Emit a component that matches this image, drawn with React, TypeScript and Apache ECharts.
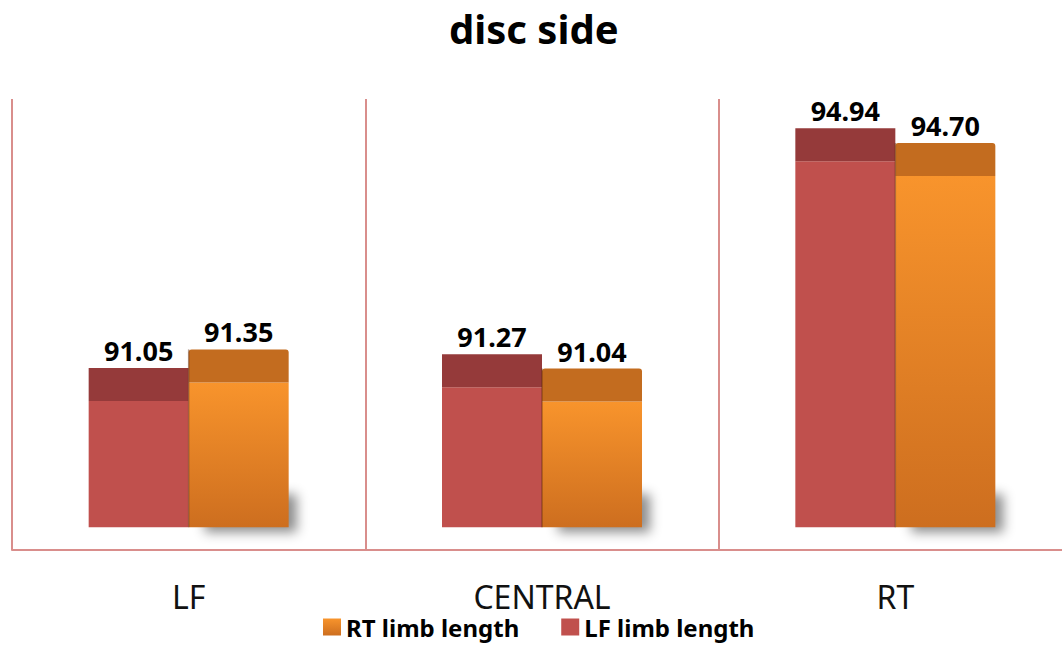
import React, { useEffect, useRef } from 'react';
import * as echarts from 'echarts';

// Limb length by disc side
const categories = ['LF', 'CENTRAL', 'RT'];
const lfLimbLength = [91.05, 91.27, 94.94];
const rtLimbLength = [91.35, 91.04, 94.7];
const baseValue = 89;

const FONT = '"Noto Sans", "Open Sans", sans-serif';
const BAR_W = 100;
const DEPTH = 33;
const LINE_COLOR = '#D98E8C';

const orangeFront = () =>
  new echarts.graphic.LinearGradient(0, 0, 0, 1, [
    { offset: 0, color: '#F8942C' },
    { offset: 1, color: '#CD6E1F' },
  ]);

function makeRenderer(side: 'left' | 'right', front: any, top: string) {
  return (_params: any, api: any) => {
    const idx = api.value(0);
    const val = api.value(1);
    const [cx, yTop] = api.coord([idx, val]);
    const [, yBase] = api.coord([idx, baseValue]);
    const x = side === 'left' ? cx - BAR_W : cx;
    const children: any[] = [];
    if (side === 'right') {
      // floor shadow cast behind the right-hand bar
      children.push({
        type: 'rect',
        shape: { x: x + 4, y: yBase - 40, width: BAR_W - 8, height: 38 },
        style: {
          fill: '#a0a0a0',
          shadowBlur: 12,
          shadowOffsetX: 12,
          shadowOffsetY: 7,
          shadowColor: 'rgba(0,0,0,0.45)',
        },
      });
    }
    children.push({
      type: 'rect',
      shape: { x, y: yTop, width: BAR_W, height: yBase - yTop },
      style: { fill: typeof front === 'function' ? front() : front },
    });
    children.push({
      type: 'rect',
      shape: { x, y: yTop - DEPTH, width: BAR_W, height: DEPTH, r: side === 'right' ? [3, 3, 0, 0] : 0 },
      style: { fill: top },
    });
    if (side === 'right') {
      children.push({
        type: 'line',
        shape: { x1: x, y1: yTop - DEPTH, x2: x, y2: yBase },
        style: { stroke: 'rgba(90,40,10,0.45)', lineWidth: 1.5 },
      });
    }
    children.push({
      type: 'text',
      x: x + BAR_W / 2,
      y: yTop - DEPTH - 4,
      style: {
        text: val.toFixed(2),
        align: 'center',
        verticalAlign: 'bottom',
        fontSize: 27,
        fontWeight: 'bold',
        fontFamily: FONT,
        fill: '#000',
      },
    });
    return { type: 'group', children };
  };
}

export default function App() {
  const ref = useRef<HTMLDivElement>(null);

  useEffect(() => {
    if (!ref.current) return;
    const chart = echarts.init(ref.current, null, { renderer: 'svg' });
    chart.setOption({
      animation: false,
      backgroundColor: '#fff',
      title: {
        text: 'disc side',
        left: 444,
        top: 3,
        textStyle: { fontSize: 40, fontWeight: 'bold', fontFamily: FONT, color: '#000' },
      },
      legend: {
        data: ['RT limb length', 'LF limb length'],
        left: 323,
        top: 615,
        padding: 0,
        icon: 'rect',
        itemWidth: 18,
        itemHeight: 17,
        itemGap: 42,
        textStyle: { fontSize: 24, lineHeight: 24, fontWeight: 'bold', fontFamily: FONT, color: '#000' },
      },
      // the right-most category boundary falls just past the visible edge
      grid: { left: 12, right: 0, top: 99, bottom: 95 },
      xAxis: {
        type: 'category',
        data: categories,
        axisLine: { show: true, lineStyle: { color: LINE_COLOR, width: 2 } },
        axisTick: { show: false },
        axisLabel: { fontSize: 32, fontFamily: FONT, color: '#111', margin: 30 },
        splitLine: { show: true, lineStyle: { color: LINE_COLOR, width: 2 } },
      },
      yAxis: {
        type: 'value',
        min: 88.63,
        max: 95.95,
        show: false,
        splitLine: { show: false },
      },
      series: [
        {
          name: 'LF limb length',
          type: 'custom',
          itemStyle: { color: '#C0504D' },
          renderItem: makeRenderer('left', '#C0504D', '#953A3A'),
          data: lfLimbLength.map((v, i) => [i, v]),
        },
        {
          name: 'RT limb length',
          type: 'custom',
          itemStyle: { color: orangeFront() },
          renderItem: makeRenderer('right', orangeFront, '#C36C1F'),
          data: rtLimbLength.map((v, i) => [i, v]),
        },
      ],
    });
    return () => chart.dispose();
  }, []);

  return (
    <div style={{ position: 'fixed', left: 0, top: 0, width: 1062, height: 645, overflow: 'hidden' }}>
      <div ref={ref} style={{ width: 1072, height: 645 }} />
    </div>
  );
}
